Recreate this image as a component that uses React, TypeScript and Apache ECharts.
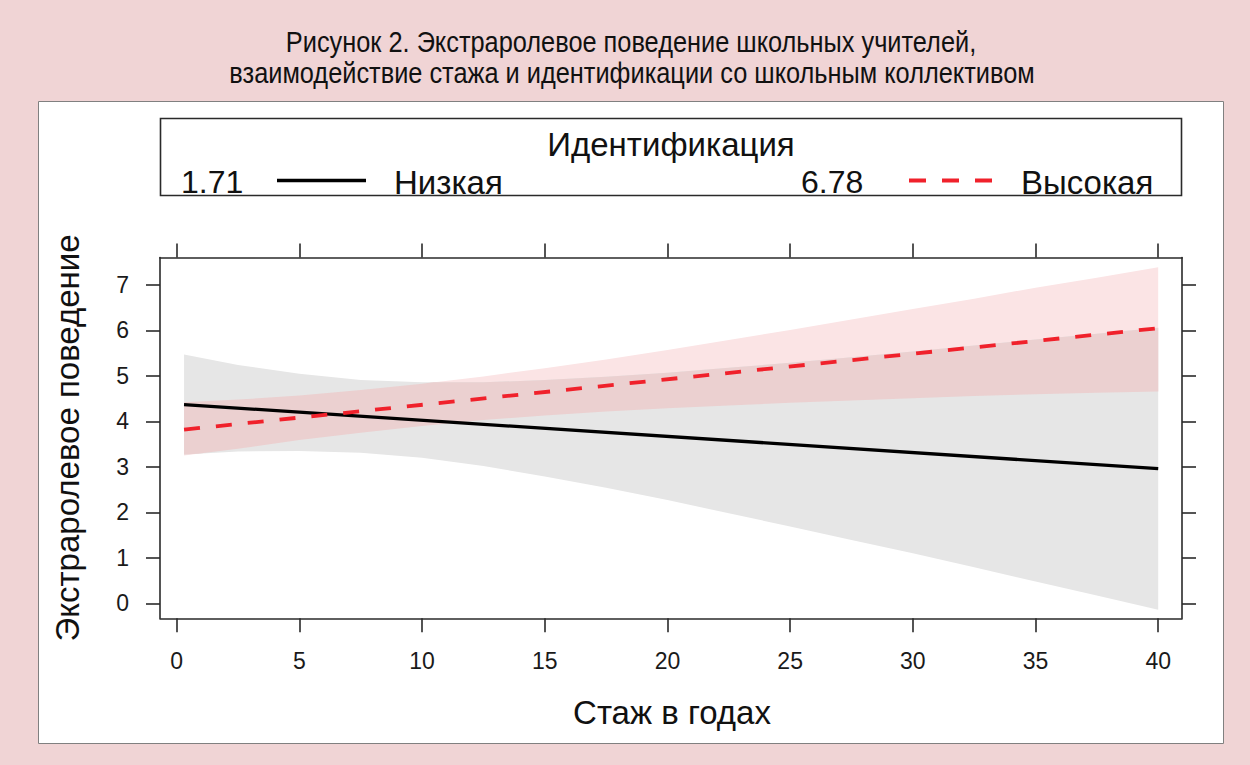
import React, { useEffect, useRef } from "react";
import * as echarts from "echarts";

// ---- data ----
const xTicks = [0, 5, 10, 15, 20, 25, 30, 35, 40];
const yTicks = [0, 1, 2, 3, 4, 5, 6, 7];

const lineX = [0.3, 40];
const lowFit = [4.37, 2.96];   // Низкая (1.71)
const highFit = [3.82, 6.05];  // Высокая (6.78)

const bandX = [0.3, 2.5, 5, 7.5, 10, 12.5, 15, 17.5, 20, 22.5, 25, 27.5, 30, 32.5, 35, 37.5, 40];
const lowLower = [3.27, 3.34, 3.35, 3.31, 3.2, 3.02, 2.79, 2.54, 2.27, 1.98, 1.69, 1.39, 1.1, 0.79, 0.48, 0.17, -0.14];
const lowUpper = [5.47, 5.24, 5.05, 4.91, 4.86, 4.86, 4.91, 4.98, 5.07, 5.18, 5.29, 5.41, 5.54, 5.67, 5.8, 5.93, 6.06];
const highLower = [3.25, 3.4, 3.59, 3.75, 3.9, 4.03, 4.13, 4.22, 4.29, 4.35, 4.41, 4.46, 4.51, 4.56, 4.6, 4.63, 4.66];
const highUpper = [4.42, 4.48, 4.57, 4.69, 4.83, 4.99, 5.17, 5.36, 5.57, 5.79, 6.01, 6.24, 6.47, 6.7, 6.94, 7.16, 7.39];

const titleLines = [
  "Рисунок 2. Экстраролевое поведение школьных учителей,",
  "взаимодействие стажа и идентификации со школьным коллективом",
];
const legendTitle = "Идентификация";
const legendLevels = ["1.71", "6.78"];
const legendNames = ["Низкая", "Высокая"];
const xName = "Стаж в годах";
const yName = "Экстраролевое поведение";

// ---- styling ----
const X_MIN = -0.68;
const X_MAX = 40.97;
const Y_MIN = -0.33;
const Y_MAX = 7.605;
const SANS = "'Liberation Sans', Arial, Helvetica, sans-serif";
const AXIS_COLOR = "#2a2a2a";
const RED = "#f0212b";
const GREY_BAND = "#e6e6e6";
const PINK_BAND = "#fbe4e5";
const OVERLAP_BAND = "#ebd0d0";

function pairs(xs: number[], ys: number[]): number[][] {
  return xs.map((x, i) => [x, ys[i]]);
}

function envelope(a: number[], b: number[], xs: number[], mode: "max" | "min"): number[][] {
  const pts: number[][] = [];
  for (let i = 0; i < xs.length; i++) {
    pts.push([xs[i], mode === "max" ? Math.max(a[i], b[i]) : Math.min(a[i], b[i])]);
    if (i < xs.length - 1) {
      const d0 = a[i] - b[i];
      const d1 = a[i + 1] - b[i + 1];
      if (d0 * d1 < 0) {
        const t = d0 / (d0 - d1);
        pts.push([xs[i] + t * (xs[i + 1] - xs[i]), a[i] + t * (a[i + 1] - a[i])]);
      }
    }
  }
  return pts;
}

function bandSeries(upper: number[][], lower: number[][], color: string) {
  return {
    type: "custom",
    silent: true,
    clip: false,
    data: [[upper[0][0], upper[0][1]]],
    renderItem: (_params: any, api: any) => {
      const pts = [
        ...upper.map((p) => api.coord(p)),
        ...lower.slice().reverse().map((p) => api.coord(p)),
      ];
      return { type: "polygon", shape: { points: pts }, style: { fill: color } };
    },
  };
}

function axisCommon(ticks: number[], min: number, max: number) {
  return {
    type: "value",
    min,
    max,
    splitLine: { show: false },
    axisLine: { show: true, onZero: false, lineStyle: { color: AXIS_COLOR, width: 1.6 } },
    axisTick: { show: true, length: 14, customValues: ticks, lineStyle: { color: AXIS_COLOR, width: 1.6 } },
  };
}

export default function App() {
  const ref = useRef<HTMLDivElement>(null);

  useEffect(() => {
    if (!ref.current) return;
    const chart = echarts.init(ref.current, undefined, { renderer: "svg" });

    const overlapUpper = envelope(lowUpper, highUpper, bandX, "min");
    const overlapLower = envelope(lowLower, highLower, bandX, "max");

    const textStyle = (size: number) => ({ fontSize: size, fontFamily: SANS, fill: "#111" });

    const option: any = {
      animation: false,
      backgroundColor: "#f0d4d5",
      grid: { left: 160, top: 257.5, right: 68, bottom: 146.7, containLabel: false, outerBoundsMode: "none" },
      xAxis: [
        {
          ...axisCommon(xTicks, X_MIN, X_MAX),
          position: "bottom",
          axisLabel: { show: true, customValues: xTicks, margin: 31, fontSize: 23, fontFamily: SANS, color: "#1a1a1a" },
        },
        {
          ...axisCommon(xTicks, X_MIN, X_MAX),
          position: "top",
          axisLabel: { show: false },
        },
      ],
      yAxis: [
        {
          ...axisCommon(yTicks, Y_MIN, Y_MAX),
          position: "left",
          axisLabel: { show: true, customValues: yTicks, margin: 31, fontSize: 23, fontFamily: SANS, color: "#1a1a1a" },
        },
        {
          ...axisCommon(yTicks, Y_MIN, Y_MAX),
          position: "right",
          axisLabel: { show: false },
        },
      ],
      graphic: [
        {
          type: "rect",
          z: 0,
          silent: true,
          shape: { x: 38.5, y: 101.5, width: 1185, height: 642 },
          style: { fill: "#ffffff", stroke: "#808080", lineWidth: 1 },
        },
        {
          type: "text",
          x: 631,
          y: 42,
          scaleX: 0.845,
          style: { ...textStyle(30), text: titleLines[0], align: "center", verticalAlign: "middle" },
        },
        {
          type: "text",
          x: 632,
          y: 73,
          scaleX: 0.845,
          style: { ...textStyle(30), text: titleLines[1], align: "center", verticalAlign: "middle" },
        },
        {
          type: "rect",
          z: 1,
          silent: true,
          shape: { x: 160.5, y: 118.5, width: 1021, height: 77 },
          style: { fill: "#ffffff", stroke: AXIS_COLOR, lineWidth: 1.6 },
        },
        {
          type: "text",
          z: 2,
          x: 671,
          y: 144,
          style: { ...textStyle(33), text: legendTitle, align: "center", verticalAlign: "middle" },
        },
        {
          type: "text",
          z: 2,
          x: 181,
          y: 182,
          style: { ...textStyle(32), text: legendLevels[0], align: "left", verticalAlign: "middle" },
        },
        {
          type: "line",
          z: 2,
          shape: { x1: 277, y1: 180.5, x2: 366, y2: 180.5 },
          style: { stroke: "#000", lineWidth: 3.3 },
        },
        {
          type: "text",
          z: 2,
          x: 394,
          y: 182,
          style: { ...textStyle(33), text: legendNames[0], align: "left", verticalAlign: "middle" },
        },
        {
          type: "text",
          z: 2,
          x: 801,
          y: 182,
          style: { ...textStyle(32), text: legendLevels[1], align: "left", verticalAlign: "middle" },
        },
        {
          type: "line",
          z: 2,
          shape: { x1: 909, y1: 180.5, x2: 992, y2: 180.5 },
          style: { stroke: RED, lineWidth: 3.8, lineDash: [17, 16] },
        },
        {
          type: "text",
          z: 2,
          x: 1021,
          y: 182,
          style: { ...textStyle(33), text: legendNames[1], align: "left", verticalAlign: "middle" },
        },
        {
          type: "text",
          z: 2,
          x: 672,
          y: 712,
          style: { ...textStyle(33), text: xName, align: "center", verticalAlign: "middle" },
        },
        {
          type: "text",
          z: 2,
          x: 67,
          y: 438,
          rotation: Math.PI / 2,
          style: { ...textStyle(33), text: yName, align: "center", verticalAlign: "middle" },
        },
      ],
      series: [
        bandSeries(pairs(bandX, highUpper), pairs(bandX, highLower), PINK_BAND),
        bandSeries(pairs(bandX, lowUpper), pairs(bandX, lowLower), GREY_BAND),
        bandSeries(overlapUpper, overlapLower, OVERLAP_BAND),
        {
          type: "line",
          name: legendNames[0],
          data: pairs(lineX, lowFit),
          showSymbol: false,
          symbol: "none",
          silent: true,
          lineStyle: { color: "#000", width: 3.3 },
        },
        {
          type: "line",
          name: legendNames[1],
          data: pairs(lineX, highFit),
          showSymbol: false,
          symbol: "none",
          silent: true,
          lineStyle: { color: RED, width: 3.8, type: [16, 16] },
        },
      ],
    };

    chart.setOption(option);
    return () => chart.dispose();
  }, []);

  return (
    <div
      ref={ref}
      style={{ position: "fixed", left: 0, top: 0, width: 1250, height: 765 }}
    />
  );
}
